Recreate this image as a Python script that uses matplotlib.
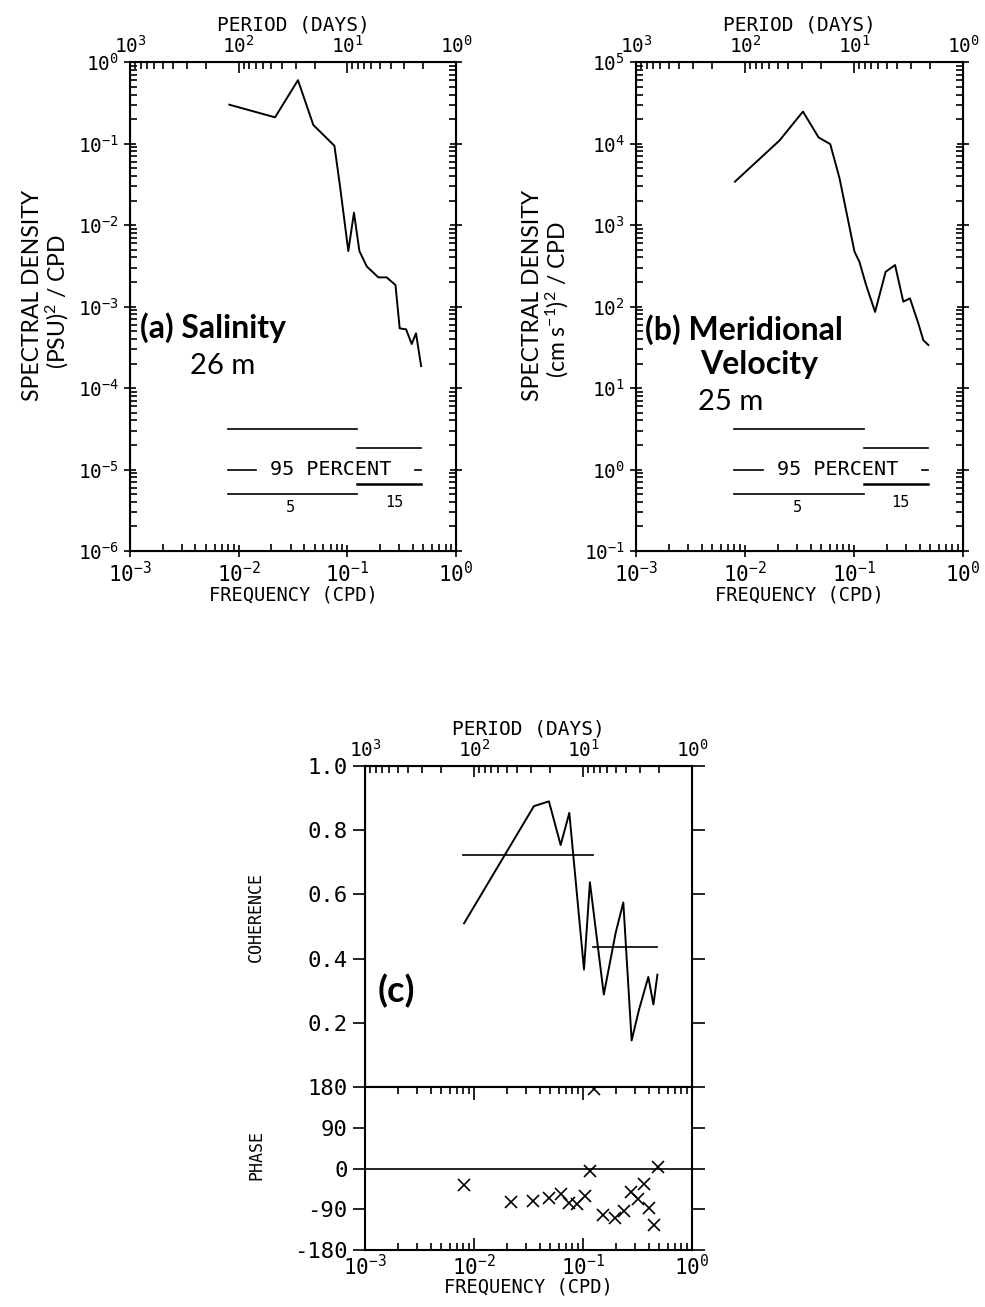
import numpy as np
import matplotlib.pyplot as plt
from matplotlib.ticker import FuncFormatter, LogLocator, NullFormatter

plt.rcParams['font.family'] = 'DejaVu Sans Mono'
plt.rcParams['mathtext.default'] = 'regular'

# (a) salinity spectrum, 26 m
freq_s = [0.0082, 0.0216, 0.0351, 0.0486, 0.076, 0.0857, 0.102, 0.115, 0.129,
          0.151, 0.193, 0.230, 0.277, 0.303, 0.347, 0.391, 0.428, 0.477]
spec_s = [0.30, 0.21, 0.60, 0.169, 0.094, 0.0295, 0.0048, 0.0142, 0.0048,
          0.0031, 0.00228, 0.00228, 0.00184, 0.00054, 0.000525, 0.000347,
          0.00047, 0.000186]

# (b) meridional velocity spectrum, 25 m
freq_v = [0.00808, 0.0207, 0.034, 0.0473, 0.0605, 0.0736, 0.101, 0.112, 0.129,
          0.156, 0.195, 0.238, 0.283, 0.326, 0.389, 0.432, 0.481]
spec_v = [3410, 10900, 24700, 11900, 9840, 3760, 471, 355, 184, 86, 267, 323,
          115, 126, 62, 38.7, 33.7]

# (c) coherence and phase
freq_c = [0.0081, 0.0354, 0.0486, 0.0623, 0.0748, 0.102, 0.1156, 0.155, 0.199,
          0.234, 0.279, 0.326, 0.397, 0.442, 0.481]
coh = [0.51, 0.875, 0.890, 0.754, 0.854, 0.366, 0.638, 0.288, 0.48, 0.575,
       0.145, 0.241, 0.343, 0.257, 0.350]
freq_p = [0.00816, 0.0218, 0.0351, 0.0483, 0.0627, 0.0751, 0.0879, 0.105, 0.116,
          0.127, 0.154, 0.198, 0.235, 0.277, 0.316, 0.359, 0.399, 0.443, 0.487]
phase = [-37, -74, -71, -65, -57, -76, -78, -60, -6, 175, -103, -110, -94, -52,
         -67, -34, -88, -125, 3]

# 95 percent confidence bars (5 and 15 degrees of freedom)
band5 = [0.008, 0.123]
band15 = [0.123, 0.477]
dash_left = [0.008, 0.0145]
dash_right = [0.42, 0.477]
ci_a = {'ref': 1e-5, 'hi5': 3.1e-5, 'lo5': 5.0e-6, 'hi15': 1.82e-5, 'lo15': 6.6e-6}
ci_b = {k: v * 1e5 for k, v in ci_a.items()}
coh_sig5 = 0.723
coh_sig15 = 0.436


def pow_fmt(v, pos):
    return r'$\mathregular{10^{%d}}$' % int(round(np.log10(v)))


def log_axes(ax, ylo, yhi):
    ax.set_xscale('log')
    ax.set_yscale('log')
    ax.set_xlim(1e-3, 1)
    ax.set_ylim(ylo, yhi)
    for a in (ax.xaxis, ax.yaxis):
        a.set_major_locator(LogLocator(base=10, numticks=12))
        a.set_minor_locator(LogLocator(base=10, subs=np.arange(2, 10), numticks=30))
        a.set_major_formatter(FuncFormatter(pow_fmt))
        a.set_minor_formatter(NullFormatter())
    ax.tick_params(which='both', direction='in', right=True, width=1.2)
    ax.tick_params(which='major', direction='inout', length=9)
    ax.tick_params(which='minor', length=5)
    ax.tick_params(axis='x', labelsize=15, pad=3)
    ax.tick_params(axis='y', labelsize=14)
    ax.set_xlabel('FREQUENCY (CPD)', fontsize=13.5, labelpad=-1)
    for s in ax.spines.values():
        s.set_linewidth(1.5)


def period_axis(ax):
    top = ax.twiny()
    top.set_xscale('log')
    top.set_xlim(1000, 1)
    top.xaxis.set_major_locator(LogLocator(base=10, numticks=12))
    top.xaxis.set_minor_locator(LogLocator(base=10, subs=np.arange(2, 10), numticks=30))
    top.xaxis.set_major_formatter(FuncFormatter(pow_fmt))
    top.xaxis.set_minor_formatter(NullFormatter())
    top.tick_params(which='both', direction='in', width=1.2, labelsize=14, pad=4)
    top.tick_params(which='major', length=8)
    top.tick_params(which='minor', length=5)
    top.set_xlabel('PERIOD (DAYS)', fontsize=14, labelpad=3)
    return top


def ci_bars(ax, ci):
    ax.plot(band5, [ci['hi5']] * 2, color='k', lw=1.2)
    ax.plot(band5, [ci['lo5']] * 2, color='k', lw=1.2)
    ax.plot(band15, [ci['hi15']] * 2, color='k', lw=1.2)
    ax.plot(band15, [ci['lo15']] * 2, color='k', lw=1.8)
    ax.plot(dash_left, [ci['ref']] * 2, color='k', lw=1.2)
    ax.plot(dash_right, [ci['ref']] * 2, color='k', lw=1.2)
    ax.text(0.0195, ci['ref'], '95 PERCENT', fontsize=14.5, va='center', ha='left')
    ax.text(0.0300, ci['ref'] * 0.34, '5', fontsize=11, va='center', ha='center')
    ax.text(0.268, ci['ref'] * 0.39, '15', fontsize=11, va='center', ha='center')


fig = plt.figure(figsize=(9.85, 13.07), dpi=100)

lab = dict(family='Lato', fontsize=23, fontweight='bold')
reg = dict(family='Lato', fontsize=21)
ylab = dict(family='Lato', fontsize=16.5, rotation=90, ha='center', va='center')

# panel (a)
ax_a = fig.add_axes([0.132, 0.5784, 0.331, 0.3741])
ax_a.plot(freq_s, spec_s, color='k', lw=1.4)
log_axes(ax_a, 1e-6, 1)
period_axis(ax_a)
ci_bars(ax_a, ci_a)
ax_a.text(0.031, 0.436, '(a) Salinity', transform=ax_a.transAxes, **lab)
ax_a.text(0.184, 0.362, '26 m', transform=ax_a.transAxes, **reg)
fig.text(0.0325, 0.774, 'SPECTRAL DENSITY', **ylab)
fig.text(0.058, 0.769, r'(PSU)$\mathregular{^{2}}$ / CPD', **ylab)

# panel (b)
ax_b = fig.add_axes([0.6457, 0.5784, 0.332, 0.3741])
ax_b.plot(freq_v, spec_v, color='k', lw=1.4)
log_axes(ax_b, 1e-1, 1e5)
period_axis(ax_b)
ci_bars(ax_b, ci_b)
ax_b.text(0.028, 0.431, '(b) Meridional', transform=ax_b.transAxes, **lab)
ax_b.text(0.196, 0.362, 'Velocity', transform=ax_b.transAxes, **lab)
ax_b.text(0.19, 0.288, '25 m', transform=ax_b.transAxes, **reg)
fig.text(0.541, 0.774, 'SPECTRAL DENSITY', **ylab)
fig.text(0.566, 0.771, r'(cm s$\mathregular{^{-1}}$)$\mathregular{^{2}}$ / CPD', **ylab)

# panel (c): coherence
ax_c = fig.add_axes([0.3706, 0.1683, 0.332, 0.2456])
ax_c.plot(freq_c, coh, color='k', lw=1.4)
ax_c.plot(band5, [coh_sig5] * 2, color='k', lw=1.2)
ax_c.plot(band15, [coh_sig15] * 2, color='k', lw=1.2)
ax_c.set_xscale('log')
ax_c.set_xlim(1e-3, 1)
ax_c.set_ylim(0, 1)
ax_c.set_yticks([0.2, 0.4, 0.6, 0.8, 1.0], ['0.2', '0.4', '0.6', '0.8', '1.0'])
ax_c.tick_params(axis='x', which='both', bottom=False, labelbottom=False)
ax_c.tick_params(axis='y', direction='out', right=True, length=9, width=1.2,
                 labelsize=16)
ax_c.set_ylabel('COHERENCE', fontsize=12)
ax_c.yaxis.set_label_coords(-0.305, 0.53)
for s in ax_c.spines.values():
    s.set_linewidth(1.5)
period_axis(ax_c)
ax_c.text(0.04, 0.265, '(c)', transform=ax_c.transAxes, family='Lato',
          fontsize=26, fontweight='bold')

# panel (c): phase
ax_p = fig.add_axes([0.3706, 0.0436, 0.332, 0.1247])
ax_p.axhline(0, color='k', lw=1.2)
ax_p.plot(freq_p, phase, 'x', color='k', ms=8, mew=1.2)
ax_p.set_xscale('log')
ax_p.set_xlim(1e-3, 1)
ax_p.set_ylim(-180, 180)
ax_p.set_yticks([-180, -90, 0, 90, 180], ['-180', '-90', '0', '90', '180'])
ax_p.xaxis.set_major_locator(LogLocator(base=10, numticks=12))
ax_p.xaxis.set_minor_locator(LogLocator(base=10, subs=np.arange(2, 10), numticks=30))
ax_p.xaxis.set_major_formatter(FuncFormatter(pow_fmt))
ax_p.xaxis.set_minor_formatter(NullFormatter())
ax_p.tick_params(axis='x', which='both', direction='in', top=True, width=1.2,
                 labelsize=15, pad=3)
ax_p.tick_params(axis='x', which='major', length=9)
ax_p.tick_params(axis='x', which='minor', length=5)
ax_p.tick_params(axis='y', direction='out', right=True, length=9, width=1.2,
                 labelsize=16)
ax_p.set_xlabel('FREQUENCY (CPD)', fontsize=13.5, labelpad=-1)
ax_p.set_ylabel('PHASE', fontsize=12)
ax_p.yaxis.set_label_coords(-0.305, 0.58)
for s in ax_p.spines.values():
    s.set_linewidth(1.5)

fig.savefig('out.png', dpi=100)
